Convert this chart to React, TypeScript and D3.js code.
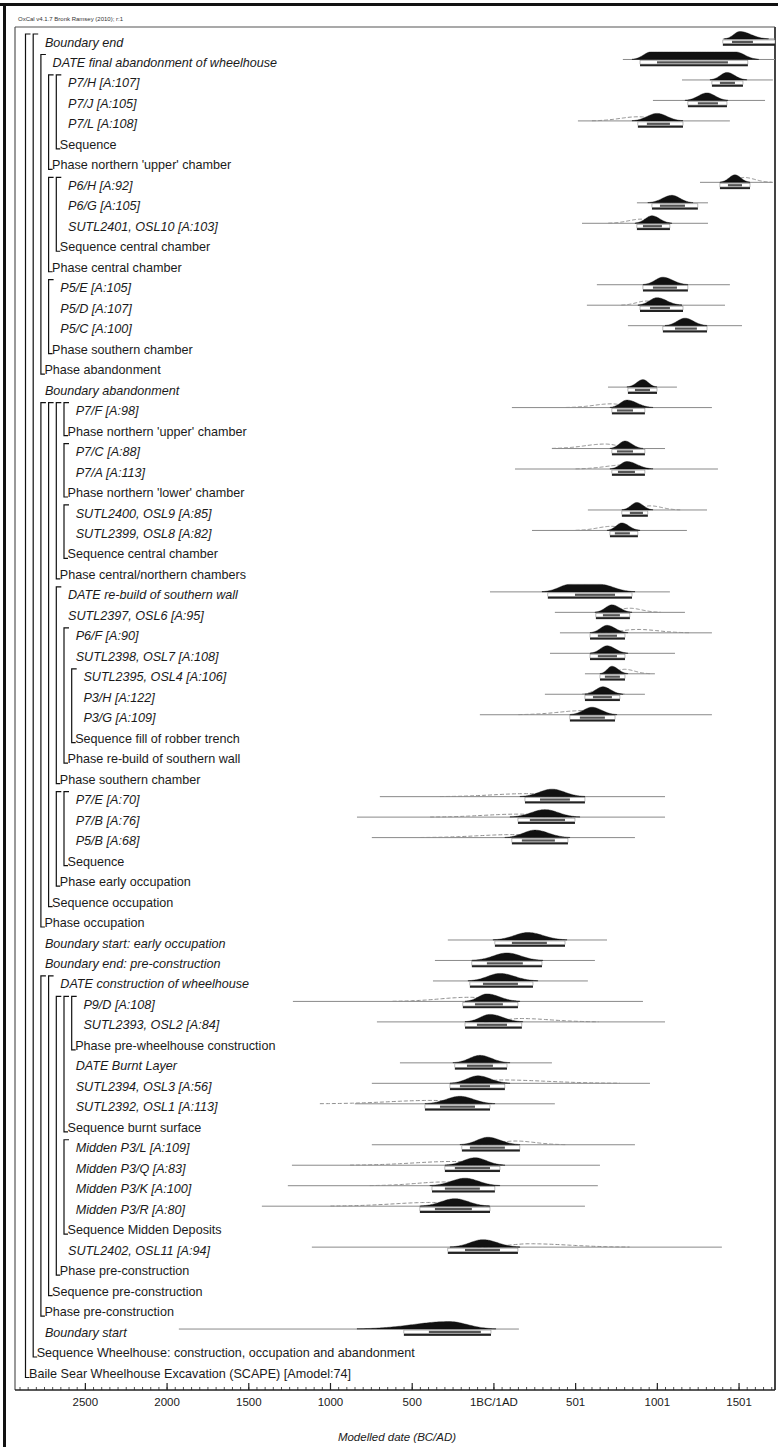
import React from 'react';
import * as d3 from 'd3';

// ---------- data ----------
const rowLabels: string[] = [
  'Boundary end',
  'DATE final abandonment of wheelhouse',
  'P7/H [A:107]',
  'P7/J [A:105]',
  'P7/L [A:108]',
  'Sequence',
  "Phase northern 'upper' chamber",
  'P6/H [A:92]',
  'P6/G [A:105]',
  'SUTL2401, OSL10 [A:103]',
  'Sequence central chamber',
  'Phase central chamber',
  'P5/E [A:105]',
  'P5/D [A:107]',
  'P5/C [A:100]',
  'Phase southern chamber',
  'Phase abandonment',
  'Boundary abandonment',
  'P7/F [A:98]',
  "Phase northern 'upper' chamber",
  'P7/C [A:88]',
  'P7/A [A:113]',
  "Phase northern 'lower' chamber",
  'SUTL2400, OSL9 [A:85]',
  'SUTL2399, OSL8 [A:82]',
  'Sequence central chamber',
  'Phase central/northern chambers',
  'DATE re-build of southern wall',
  'SUTL2397, OSL6 [A:95]',
  'P6/F [A:90]',
  'SUTL2398, OSL7 [A:108]',
  'SUTL2395, OSL4 [A:106]',
  'P3/H [A:122]',
  'P3/G [A:109]',
  'Sequence fill of robber trench',
  'Phase re-build of southern wall',
  'Phase southern chamber',
  'P7/E [A:70]',
  'P7/B [A:76]',
  'P5/B [A:68]',
  'Sequence',
  'Phase early occupation',
  'Sequence occupation',
  'Phase occupation',
  'Boundary start: early occupation',
  'Boundary end: pre-construction',
  'DATE construction of wheelhouse',
  'P9/D [A:108]',
  'SUTL2393, OSL2 [A:84]',
  'Phase pre-wheelhouse construction',
  'DATE Burnt Layer',
  'SUTL2394, OSL3 [A:56]',
  'SUTL2392, OSL1 [A:113]',
  'Sequence burnt surface',
  'Midden P3/L [A:109]',
  'Midden P3/Q [A:83]',
  'Midden P3/K [A:100]',
  'Midden P3/R [A:80]',
  'Sequence Midden Deposits',
  'SUTL2402, OSL11 [A:94]',
  'Phase pre-construction',
  'Sequence pre-construction',
  'Phase pre-construction',
  'Boundary start',
  'Sequence Wheelhouse: construction, occupation and abandonment',
  'Baile Sear Wheelhouse Excavation (SCAPE) [Amodel:74]',
];

const rowDepth: number[] = [
  2, 3, 5, 5, 5, 4, 3, 5, 5, 5, 4, 3, 4, 4, 4, 3, 2, 2,
  6, 5, 6, 6, 5, 6, 6, 5, 4, 5, 5, 6, 6, 7, 7, 7, 6, 5, 4,
  6, 6, 6, 5, 4, 3, 2, 2, 2, 4, 7, 7, 6, 6, 6, 6, 5, 6, 6, 6, 6, 5, 5, 4, 3, 2, 2, 1, 0,
];

const groupRows: number[] = [
  5, 6, 10, 11, 15, 16, 19, 22, 25, 26, 34, 35, 36, 40, 41, 42, 43,
  49, 53, 58, 60, 61, 62, 64, 65,
];

// distributions (years BC negative / AD positive)
const distRows: number[] = [
  0, 1, 2, 3, 4, 7, 8, 9, 12, 13, 14, 17, 18, 20, 21, 23, 24, 27, 28, 29, 30,
  31, 32, 33, 37, 38, 39, 44, 45, 46, 47, 48, 50, 51, 52, 54, 55, 56, 57, 59, 63,
];
const baseRanges: [number, number][] = [
  [1401, 1720], [789, 1720], [1151, 1707], [973, 1659], [514, 1444],
  [1261, 1707], [875, 1310], [539, 1310], [630, 1444], [569, 1414], [820, 1518],
  [698, 1120], [110, 1334], [355, 1047], [129, 1371], [575, 1304], [233, 1181],
  [-24, 1077], [373, 1169], [404, 1334], [343, 1108], [557, 985], [312, 924], [-86, 1334],
  [-698, 1047], [-838, 1047], [-747, 863],
  [-282, 692], [-361, 618], [-373, 575], [-1230, 912], [-716, 1047],
  [-575, 355], [-747, 955], [-851, 373],
  [-747, 863], [-1236, 649], [-1261, 636], [-1420, 557], [-1114, 1395], [-1928, 153],
];
const posterior: [number, number, number, number][] = [
  [1410, 1505, 1505, 1680], [845, 960, 1480, 1620], [1322, 1426, 1426, 1548], [1169, 1304, 1304, 1432], [845, 998, 998, 1157],
  [1383, 1475, 1475, 1567], [942, 1089, 1089, 1218], [863, 967, 967, 1089], [912, 1034, 1034, 1187], [881, 998, 998, 1151], [1047, 1169, 1169, 1304],
  [814, 912, 912, 998], [710, 814, 814, 973], [710, 802, 802, 912], [710, 814, 814, 973], [783, 875, 875, 973], [692, 783, 783, 894],
  [294, 465, 649, 863], [618, 722, 722, 845], [588, 692, 692, 820], [588, 692, 692, 820], [649, 722, 722, 820], [557, 667, 667, 790], [465, 600, 600, 753],
  [159, 355, 355, 557], [98, 312, 312, 526], [67, 251, 251, 465],
  [-6, 208, 208, 447], [-135, 80, 80, 300], [-159, 37, 37, 269], [-177, -43, -43, 159], [-177, -24, -24, 177],
  [-251, -86, -86, 98], [-269, -98, -98, 98], [-422, -208, -208, 6],
  [-208, -37, -37, 159], [-300, -116, -116, 67], [-392, -177, -177, 37], [-453, -239, -239, -24], [-269, -67, -67, 159], [-838, -275, -275, 12],
];
const range68: [number, number][] = [
  [1457, 1585], [998, 1432], [1383, 1475], [1248, 1371], [936, 1077],
  [1432, 1518], [1016, 1169], [912, 1028], [973, 1120], [955, 1077], [1108, 1242],
  [863, 955], [753, 851], [753, 851], [759, 863], [832, 912], [740, 832],
  [496, 741], [667, 771], [636, 753], [636, 753], [679, 771], [606, 722], [526, 679],
  [282, 465], [220, 435], [171, 373],
  [110, 324], [-43, 177], [-67, 147], [-116, 55], [-104, 80],
  [-165, -6], [-208, -24], [-330, -116],
  [-147, 67], [-239, -24], [-300, -86], [-361, -135], [-177, 37], [-398, -80],
];
const range95: [number, number][] = [
  [1401, 1720], [894, 1554], [1334, 1524], [1187, 1426], [881, 1157],
  [1383, 1567], [967, 1248], [875, 1077], [912, 1187], [894, 1157], [1034, 1304],
  [820, 998], [722, 924], [722, 924], [722, 924], [783, 942], [710, 881],
  [330, 845], [624, 832], [588, 802], [588, 802], [649, 802], [557, 771], [465, 741],
  [190, 557], [147, 496], [110, 453],
  [6, 435], [-135, 294], [-147, 239], [-190, 147], [-177, 171],
  [-239, 80], [-269, 67], [-422, -24],
  [-196, 159], [-300, 37], [-379, 6], [-453, -24], [-282, 147], [-551, -18],
];
const likelihood: ([number, number, number, number] | null)[] = [
  null, null, null, null, [600, 880, 1150, 0.55],
  [1400, 1530, 1700, 0.65], null, [700, 900, 1080, 0.55], null, [780, 930, 1150, 0.55], null,
  null, [440, 720, 900, 0.5], [355, 680, 890, 0.6], [500, 800, 950, 0.55], [830, 955, 1140, 0.55], [500, 720, 890, 0.55],
  null, [650, 830, 1020, 0.55], [620, 880, 1200, 0.45], null, [680, 800, 955, 0.6], [540, 640, 800, 0.6], [150, 550, 720, 0.55],
  [-330, 200, 500, 0.4], [-390, 150, 480, 0.4], [-450, 120, 420, 0.4],
  null, null, null, [-620, -150, 150, 0.55], [-60, 160, 640, 0.45],
  null, [-150, 40, 770, 0.45], [-1065, -380, 0, 0.45],
  [-100, 130, 440, 0.5], [-880, -250, 50, 0.5], [-760, -300, 0, 0.5], [-1000, -380, -30, 0.5], [-100, 220, 830, 0.45], null,
];

const majorTicks: number[] = [-2500, -2000, -1500, -1000, -500, 0, 500, 1000, 1500];
const tickLabels: string[] = ['2500', '2000', '1500', '1000', '500', '1BC/1AD', '501', '1001', '1501'];

// ---------- layout ----------
const W = 778;
const H = 1447;
const BOX_L = 15;
const BOX_R = 775;
const BOX_T = 27;
const AXIS_Y = 1390;
const FONT = "'Liberation Sans', Arial, sans-serif";

const x = d3.scaleLinear().domain([-2900, 1720]).range([20, 775]);
const y = d3.scaleLinear().domain([0, rowLabels.length - 1]).range([42, 1373]);
const bx = (d: number) => 25.5 + 7.7 * d;
const PEAK = 7.5;

function shapeVal(v: number, lo: number, m1: number, m2: number, hi: number) {
  if (v < m1) {
    const s = Math.max(1, (m1 - lo) / 2.6);
    return Math.exp(-0.5 * ((v - m1) / s) ** 2);
  }
  if (v > m2) {
    const s = Math.max(1, (hi - m2) / 2.6);
    return Math.exp(-0.5 * ((v - m2) / s) ** 2);
  }
  return 1;
}

export default function App() {
  const groupSet = new Set(groupRows);

  const brackets = groupRows.map((g) => {
    const d = rowDepth[g];
    let s = g;
    while (s - 1 >= 0 && rowDepth[s - 1] > d) s--;
    const X = bx(d);
    const top = y(s) - 8;
    const bot = y(g) + 4.5;
    return (
      <path
        key={'b' + g}
        d={`M${X + 5},${top}H${X}V${bot}H${X + 4}`}
        fill="none"
        stroke="#111"
        strokeWidth={1.2}
      />
    );
  });

  const labels = rowLabels.map((t, i) => {
    const isG = groupSet.has(i);
    const d = rowDepth[i];
    const tx = isG ? bx(d) + 3.5 : bx(d) + 4;
    return (
      <text
        key={'t' + i}
        x={tx}
        y={y(i)}
        dy="0.36em"
        fontFamily={FONT}
        fontSize={12.6}
        fontStyle={isG ? 'normal' : 'italic'}
        fill="#1a1a1a"
      >
        {t}
      </text>
    );
  });

  const dists = distRows.map((r, k) => {
    const c = y(r);
    const base = c - 3;
    const [blo, bhi] = baseRanges[k];
    const [lo, m1, m2, hi] = posterior[k];
    const n = 80;
    const pts: [number, number][] = d3.range(n + 1).map((j) => {
      const v = lo + ((hi - lo) * j) / n;
      return [x(v), base - PEAK * shapeVal(v, lo, m1, m2, hi)];
    });
    const postArea = d3
      .area<[number, number]>()
      .x((p) => p[0])
      .y0(base)
      .y1((p) => p[1])(pts);
    let likPath: string | null = null;
    const L = likelihood[k];
    if (L) {
      const [llo, lm, lhi, lh] = L;
      const lp: [number, number][] = d3.range(n + 1).map((j) => {
        const v = llo + ((lhi - llo) * j) / n;
        return [x(v), base - PEAK * lh * shapeVal(v, llo, lm, lm, lhi)];
      });
      likPath = d3.line()(lp);
    }
    const [a68, b68] = range68[k];
    const [a95, b95] = range95[k];
    const x95a = Math.max(x(a95), BOX_L);
    const x95b = Math.min(x(b95), BOX_R);
    return (
      <g key={'d' + r}>
        <line x1={x(blo)} x2={Math.min(x(bhi), BOX_R)} y1={base} y2={base} stroke="#8a8a8a" strokeWidth={1} />
        {likPath && (
          <path d={likPath} fill="none" stroke="#8f8f8f" strokeWidth={1} strokeDasharray="4,2" />
        )}
        <path d={postArea || ''} fill="#111" stroke="#111" strokeWidth={0.4} />
        <rect x={x95a} y={c - 2} width={x95b - x95a} height={3.6} fill="#fff" stroke="#777" strokeWidth={0.5} />
        <rect x={x(a68)} y={c - 1.2} width={x(b68) - x(a68)} height={2.2} fill="#555" />
        <rect x={x95a} y={c + 1.8} width={x95b - x95a} height={2} fill="#222" />
      </g>
    );
  });

  const minorTicks = d3.range(-2900, 1701, 50);

  return (
    <svg
      width={W}
      height={H}
      viewBox={`0 0 ${W} ${H}`}
      style={{ position: 'absolute', left: 0, top: 0, background: '#fff' }}
    >
      <rect x={0} y={0} width={W} height={H} fill="#fff" />
      <line x1={0} x2={W} y1={4.5} y2={4.5} stroke="#111" strokeWidth={3} />
      <line x1={4.5} x2={4.5} y1={3} y2={H} stroke="#111" strokeWidth={3} />
      <text x={18} y={21} fontFamily={FONT} fontSize={6} fill="#333">
        OxCal v4.1.7 Bronk Ramsey (2010); r:1
      </text>
      <line x1={BOX_L} x2={BOX_R} y1={BOX_T} y2={BOX_T} stroke="#555" strokeWidth={1.2} />
      <line x1={BOX_L} x2={BOX_L} y1={BOX_T} y2={AXIS_Y} stroke="#555" strokeWidth={1.2} />
      <line x1={BOX_R} x2={BOX_R} y1={BOX_T} y2={AXIS_Y} stroke="#444" strokeWidth={2} />
      {dists}
      {brackets}
      {labels}
      <line x1={BOX_L} x2={BOX_R} y1={AXIS_Y} y2={AXIS_Y} stroke="#222" strokeWidth={1.3} />
      {minorTicks.map((t) => (
        <line key={'m' + t} x1={x(t)} x2={x(t)} y1={AXIS_Y} y2={AXIS_Y - 3} stroke="#222" strokeWidth={0.8} />
      ))}
      {majorTicks.map((t, i) => (
        <g key={'M' + t}>
          <line x1={x(t)} x2={x(t)} y1={AXIS_Y} y2={AXIS_Y - 7} stroke="#222" strokeWidth={1.2} />
          <text x={x(t)} y={AXIS_Y + 16} textAnchor="middle" fontFamily={FONT} fontSize={11.5} fill="#1a1a1a">
            {tickLabels[i]}
          </text>
        </g>
      ))}
      <text x={397} y={1441} textAnchor="middle" fontFamily={FONT} fontSize={11.5} fontStyle="italic" fill="#1a1a1a">
        Modelled date (BC/AD)
      </text>
    </svg>
  );
}
